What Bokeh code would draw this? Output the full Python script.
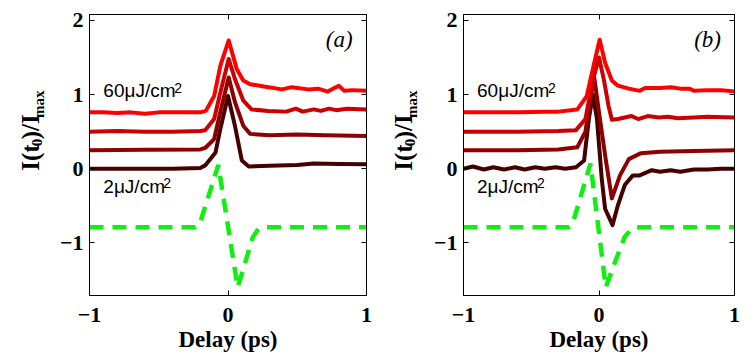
import math
from bokeh.plotting import figure
from bokeh.models import Range1d, FixedTicker, LinearAxis, Label
from bokeh.layouts import row
from bokeh.embed import file_html
from bokeh.resources import INLINE

# ---------------- data ----------------
fluence_labels = ["60μJ/cm", "2μJ/cm"]
panel_tags = ["(a)", "(b)"]
x_ticks = [-1, 0, 1]
y_ticks = [-1, 0, 1, 2]
ylabel_parts = ["I(t", "0", ")/I", "max"]

# panel (a)
a60_x = [-1, -0.9, -0.8, -0.7, -0.6, -0.5, -0.4, -0.3, -0.2, -0.16, -0.1, -0.055, 0.005, 0.064, 0.11, 0.16, 0.26, 0.39, 0.46, 0.58, 0.65, 0.72, 0.8, 0.84, 0.9, 1.0]
a60_y = [0.76, 0.76, 0.75, 0.76, 0.74, 0.76, 0.76, 0.76, 0.76, 0.78, 0.98, 1.39, 1.73, 1.34, 1.19, 1.14, 1.11, 1.07, 1.1, 1.07, 1.08, 1.04, 1.12, 1.05, 1.06, 1.05]
a2_x = [-1, -0.8, -0.6, -0.4, -0.2, -0.165, -0.1, -0.055, 0.005, 0.05, 0.11, 0.17, 0.29, 0.42, 0.49, 0.54, 0.62, 0.67, 0.73, 0.78, 0.86, 1.0]
a2_y = [0.5, 0.51, 0.5, 0.5, 0.51, 0.52, 0.67, 1.03, 1.48, 1.21, 0.92, 0.8, 0.78, 0.77, 0.81, 0.77, 0.8, 0.78, 0.81, 0.79, 0.81, 0.8]
a3_x = [-1, -0.6, -0.2, -0.165, -0.1, -0.055, 0.005, 0.05, 0.11, 0.16, 0.3, 0.5, 0.7, 1.0]
a3_y = [0.25, 0.255, 0.26, 0.28, 0.4, 0.77, 1.23, 0.9, 0.58, 0.47, 0.45, 0.46, 0.45, 0.44]
a4_x = [-1, -0.7, -0.4, -0.2, -0.165, -0.09, -0.055, 0.0, 0.05, 0.1, 0.15, 0.3, 0.5, 0.62, 0.8, 1.0]
a4_y = [0.0, 0.0, 0.0, 0.01, 0.045, 0.22, 0.54, 0.98, 0.58, 0.11, 0.03, 0.04, 0.05, 0.07, 0.065, 0.06]
ag_x = [-1, -0.235, -0.2, -0.07, 0.07, 0.18, 0.22, 0.27, 1]
ag_y = [-0.79, -0.79, -0.72, 0.05, -1.6, -0.92, -0.81, -0.79, -0.79]

# panel (b)
b60_x = [-1, -0.8, -0.6, -0.4, -0.3, -0.16, -0.09, -0.04, 0.005, 0.045, 0.095, 0.14, 0.22, 0.3, 0.34, 0.45, 0.53, 0.6, 0.67, 0.7, 0.8, 0.9, 1.0]
b60_y = [0.76, 0.76, 0.76, 0.77, 0.77, 0.8, 0.98, 1.39, 1.74, 1.43, 1.19, 1.12, 1.08, 1.05, 1.09, 1.09, 1.1, 1.08, 1.08, 1.05, 1.06, 1.06, 1.04]
b2_x = [-1, -0.6, -0.3, -0.17, -0.1, -0.05, 0.0, 0.035, 0.07, 0.095, 0.14, 0.24, 0.29, 0.36, 0.44, 0.51, 0.58, 0.7, 0.8, 1.0]
b2_y = [0.5, 0.5, 0.51, 0.52, 0.67, 1.16, 1.5, 1.21, 0.85, 0.66, 0.67, 0.71, 0.67, 0.71, 0.69, 0.7, 0.68, 0.69, 0.7, 0.69]
b3_x = [-1, -0.6, -0.3, -0.16, -0.1, -0.065, -0.035, 0.0, 0.05, 0.095, 0.155, 0.22, 0.31, 0.45, 0.7, 1.0]
b3_y = [0.25, 0.25, 0.26, 0.29, 0.5, 0.94, 1.23, 0.76, 0.12, -0.4, -0.09, 0.13, 0.21, 0.23, 0.24, 0.25]
b4_x = [-1, -0.93, -0.85, -0.78, -0.7, -0.62, -0.55, -0.47, -0.4, -0.32, -0.25, -0.17, -0.11, -0.075, -0.045, -0.015, 0.02, 0.045, 0.1, 0.14, 0.19, 0.25, 0.3, 0.39, 0.45, 0.53, 0.6, 0.7, 0.8, 0.9, 1.0]
b4_y = [0.0, 0.03, -0.01, 0.02, -0.01, 0.02, -0.01, 0.02, 0.0, 0.02, 0.0, 0.02, 0.11, 0.67, 1.0, 0.67, -0.13, -0.54, -0.76, -0.49, -0.22, -0.09, -0.09, -0.02, -0.04, -0.02, -0.04, -0.01, -0.01, 0.0, 0.0]
bg_x = [-1, -0.22, -0.18, -0.063, 0.05, 0.12, 0.19, 0.24, 0.3, 1]
bg_y = [-0.79, -0.79, -0.65, 0.07, -1.6, -1.25, -0.92, -0.81, -0.79, -0.79]

red_colors = ["#450000", "#8f0000", "#cc0000", "#ff0000"]  # 2, ..., 60 uJ/cm^2
green_color = "#11ee11"

SERIF = "Liberation Serif"
SANS = "Liberation Sans"
X0, X1, Y0, Y1 = -1, 1, -1.71, 2.08
H = 356


def make_ylabel(width, baseline_x):
    """Narrow figure holding the rotated label I(t0)/Imax (pixel-like coordinates)."""
    f = figure(width=width, height=H, x_range=Range1d(0, width), y_range=Range1d(0, H),
               x_axis_type=None, y_axis_type=None, output_backend="svg", toolbar_location=None,
               min_border=0, outline_line_color=None)
    f.grid.visible = False
    f.background_fill_color = "white"
    f.border_fill_color = "white"
    specs = [(158, 0, "25px"), (189, 6, "15px"), (198, 0, "25px"), (225, 8, "15px")]
    for txt, (yy, dx, fs) in zip(ylabel_parts, specs):
        f.add_layout(Label(x=baseline_x + dx, y=yy, text=txt, angle=math.pi / 2,
                           text_font=SERIF, text_font_style="bold", text_font_size=fs,
                           text_color="black", text_align="left", text_baseline="alphabetic"))
    return f


def make_panel(tag, curves, green, width, bl, br):
    p = figure(width=width, height=H, x_range=Range1d(X0, X1), y_range=Range1d(Y0, Y1),
               output_backend="svg", toolbar_location=None,
               min_border_left=bl, min_border_right=br, min_border_top=14, min_border_bottom=61)
    p.xgrid.visible = False
    p.ygrid.visible = False
    p.outline_line_color = "black"
    p.outline_line_width = 1
    p.background_fill_color = "white"
    p.border_fill_color = "white"

    for ax, ticks in ((p.xaxis[0], x_ticks), (p.yaxis[0], y_ticks)):
        ax.ticker = FixedTicker(ticks=ticks)
        ax.major_label_overrides = {t: ("−%d" % -t if t < 0 else "%d" % t) for t in ticks}
        ax.major_tick_in = 5
        ax.major_tick_out = 0
        ax.minor_tick_line_color = None
        ax.axis_line_color = "black"
        ax.major_label_text_font = SERIF
        ax.major_label_text_font_style = "bold"
        ax.major_label_text_font_size = "22px"
        ax.major_label_text_color = "black"
    p.xaxis.major_label_standoff = 12
    p.yaxis.major_label_standoff = 6
    p.xaxis.axis_label = "Delay (ps)"
    p.xaxis.axis_label_text_font = SERIF
    p.xaxis.axis_label_text_font_style = "bold"
    p.xaxis.axis_label_text_font_size = "23px"
    p.xaxis.axis_label_text_color = "black"
    p.xaxis.axis_label_standoff = 2

    # mirrored tick axes (MATLAB box style), no labels
    top = LinearAxis(ticker=FixedTicker(ticks=x_ticks), major_tick_in=5, major_tick_out=0,
                     minor_tick_line_color=None, major_label_text_font_size="2px",
                     major_label_text_color=None, major_label_standoff=0)
    right = LinearAxis(ticker=FixedTicker(ticks=y_ticks), major_tick_in=5, major_tick_out=0,
                       minor_tick_line_color=None, major_label_text_font_size="2px",
                       major_label_text_color=None, major_label_standoff=0)
    p.add_layout(top, "above")
    p.add_layout(right, "right")

    gx, gy = green
    p.line(gx, gy, line_color=green_color, line_width=4.5, line_dash="14 9")
    for (cx, cy), col in zip(curves, red_colors):
        p.line(cx, cy, line_color=col, line_width=4, line_join="round", line_cap="round")

    # fluence annotations
    p.add_layout(Label(x=-0.9, y=0.91, text=fluence_labels[0], text_font=SANS,
                       text_font_size="19px", text_color="black"))
    p.add_layout(Label(x=-0.9, y=0.91, x_offset=71, y_offset=8, text="2", text_font=SANS,
                       text_font_size="14px", text_color="black"))
    p.add_layout(Label(x=-0.9, y=-0.375, text=fluence_labels[1], text_font=SANS,
                       text_font_size="19px", text_color="black"))
    p.add_layout(Label(x=-0.9, y=-0.375, x_offset=60, y_offset=9, text="2", text_font=SANS,
                       text_font_size="14px", text_color="black"))
    # panel tag
    p.add_layout(Label(x=0.9, y=1.58, text=tag, text_align="right", text_font=SERIF,
                       text_font_style="italic", text_font_size="23px", text_color="black"))
    return p


la = make_ylabel(56, 30)
pa = make_panel(panel_tags[0], [(a4_x, a4_y), (a3_x, a3_y), (a2_x, a2_y), (a60_x, a60_y)],
                (ag_x, ag_y), 322, 30, 12)
lb = make_ylabel(52, 25)
pb = make_panel(panel_tags[1], [(b4_x, b4_y), (b3_x, b3_y), (b2_x, b2_y), (b60_x, b60_y)],
                (bg_x, bg_y), 314, 30, 10)

layout = row(la, pa, lb, pb, spacing=0)
open("out.html", "w").write(file_html(layout, INLINE))
